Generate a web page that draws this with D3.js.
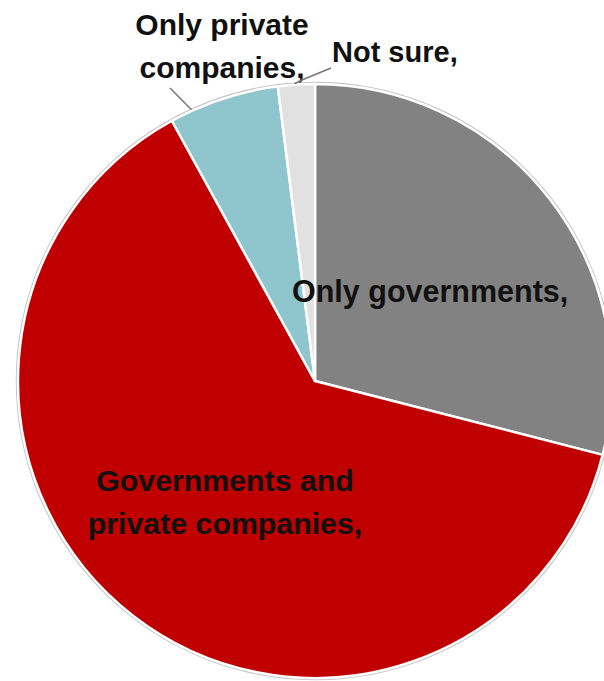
<!DOCTYPE html>
<html>
<head>
<meta charset="utf-8">
<script src="https://cdn.jsdelivr.net/npm/d3@7/dist/d3.min.js"></script>
<style>
  html, body { margin: 0; padding: 0; background: #fff; }
  svg { display: block; }
  text { font-family: "Liberation Sans", Arial, sans-serif; font-weight: bold; fill: #111; }
</style>
</head>
<body>
<svg id="chart" width="604" height="681"></svg>
<script>
// ---- data ----
const categories = ["Only governments", "Governments and private companies", "Only private companies", "Not sure"];
const values = [29, 63, 6, 2];
const colors = ["#828282", "#C00000", "#8FC5CC", "#E1E1E1"];
const labelLines = [
  ["Only governments,"],
  ["Governments and", "private companies,"],
  ["Only private", "companies,"],
  ["Not sure,"]
];

// ---- layout ----
const cx = 315, cy = 381, R = 297;
const lineH = 43;

const svg = d3.select("#chart");
const g = svg.append("g").attr("transform", `translate(${cx},${cy})`);

const pie = d3.pie().sort(null).value(d => d.value).startAngle(0).endAngle(2 * Math.PI);
const arcs = pie(categories.map((c, i) => ({ cat: c, value: values[i], color: colors[i], lines: labelLines[i] })));
const arc = d3.arc().innerRadius(0).outerRadius(R);

// outer faint border
g.append("circle").attr("r", R + 1.5).attr("fill", "none").attr("stroke", "#c4c4c4").attr("stroke-width", 1.5);

g.selectAll("path.slice").data(arcs).enter().append("path")
  .attr("class", "slice")
  .attr("d", arc)
  .attr("fill", d => d.data.color)
  .attr("stroke", "#fff")
  .attr("stroke-width", 2.5)
  .attr("stroke-linejoin", "round");

// label anchors (layout, page coordinates)
const labelPos = [
  { x: 292, y: 302, anchor: "start", size: 30.5 },
  { x: 225, y: 491, anchor: "middle", size: 30.3 },
  { x: 222, y: 35, anchor: "middle", size: 30 },
  { x: 332, y: 62, anchor: "start", size: 29 }
];

arcs.forEach((d, i) => {
  const p = labelPos[i];
  const t = svg.append("text")
    .attr("font-size", p.size)
    .attr("text-anchor", p.anchor)
    .attr("fill", i === 1 ? "#1a0000" : "#111");
  d.data.lines.forEach((ln, j) => {
    t.append("tspan")
      .attr("x", p.x)
      .attr("y", p.y + j * lineH)
      .text(ln);
  });
});

// leader lines ending on the rim of their slices
function rimPoint(d, frac, rOff) {
  const a = d.startAngle + (d.endAngle - d.startAngle) * frac;
  const r = R + rOff;
  return [cx + r * Math.sin(a), cy - r * Math.cos(a)];
}
const lp = rimPoint(arcs[2], 0.2, 1);
svg.append("polyline")
  .attr("points", [[170, 88], lp].map(p => p.join(",")).join(" "))
  .attr("fill", "none").attr("stroke", "#777").attr("stroke-width", 1.5);
const ns = rimPoint(arcs[3], 0.45, 1);
svg.append("polyline")
  .attr("points", [[331, 68], [302, 80], ns].map(p => p.join(",")).join(" "))
  .attr("fill", "none").attr("stroke", "#777").attr("stroke-width", 1.5);
</script>
</body>
</html>
